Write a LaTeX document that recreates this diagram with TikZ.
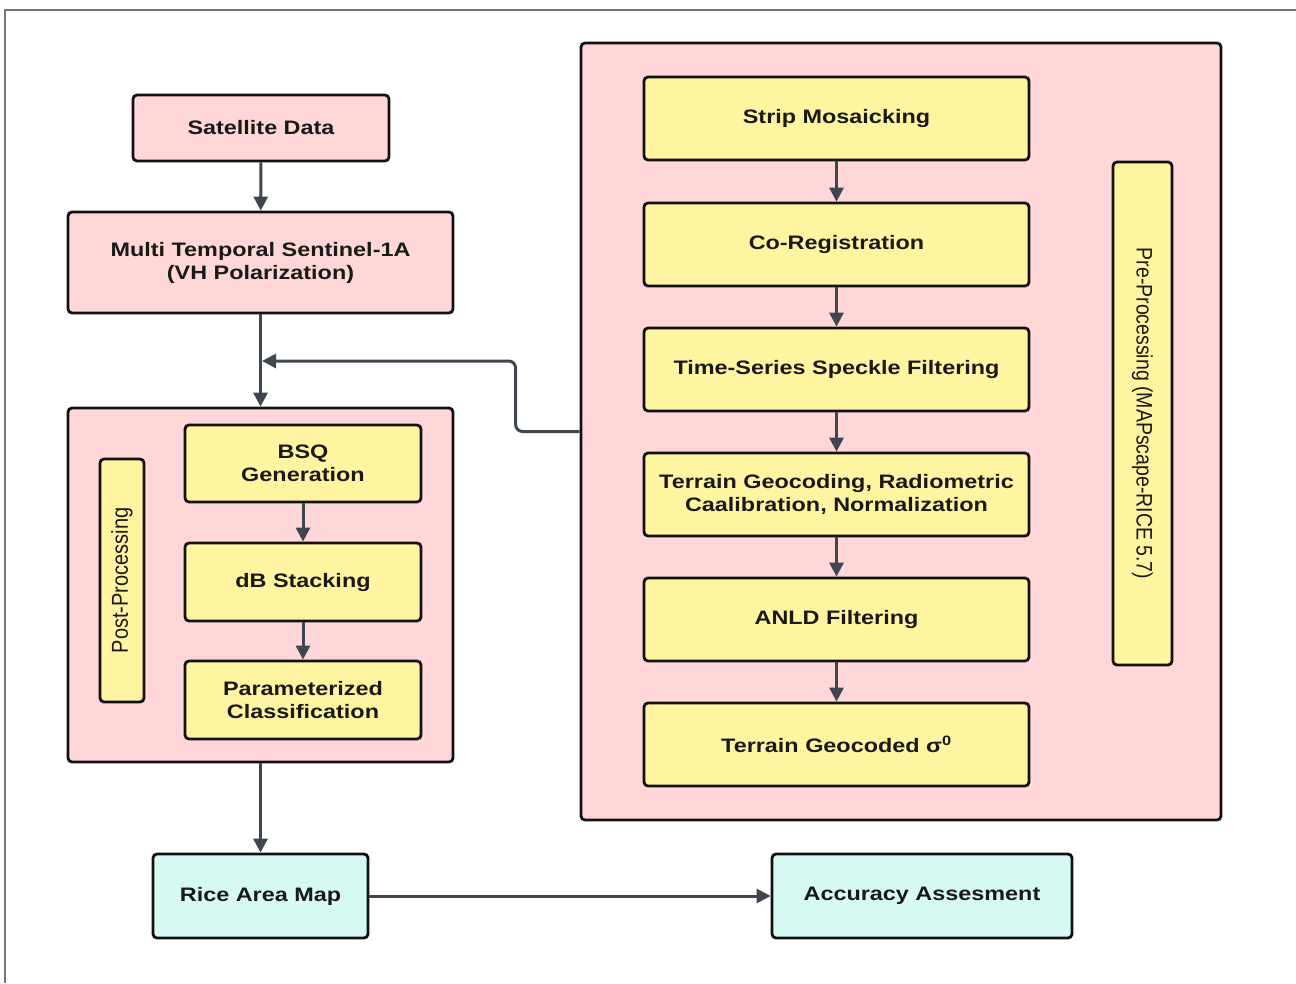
\documentclass[tikz,border=0pt]{standalone}
\usepackage{fontspec}
\usepackage{graphicx}
\setmainfont{Liberation Sans}[FakeStretch=1.2]
\newfontfamily\rotfont{Liberation Sans}
\usetikzlibrary{arrows.meta}
\definecolor{pinkfill}{HTML}{FFD7D8}
\definecolor{yellowfill}{HTML}{FFF5A1}
\definecolor{cyanfill}{HTML}{D7F9F3}
\definecolor{arrowcol}{HTML}{3F4650}
\definecolor{edgecol}{HTML}{111111}
\definecolor{framecol}{HTML}{777777}
\tikzset{
  basebox/.style={rectangle, rounded corners=4pt, draw=edgecol, line width=2.8pt,
    align=center, inner sep=0pt, text=black!90,
    font=\fontsize{19.5}{23}\selectfont\bfseries},
  pinkbox/.style={basebox, fill=pinkfill},
  yellowbox/.style={basebox, fill=yellowfill},
  cyanbox/.style={basebox, fill=cyanfill},
  rotlabel/.style={basebox, fill=yellowfill, font=\rotfont\fontsize{20}{24}\selectfont},
  arr/.style={draw=arrowcol, line width=3pt, -{Triangle[length=14pt,width=14pt]}},
}
\newcommand{\boxat}[6]{% style, name, x1, y1, x2, y2 -- text given after
  \node[#1, minimum width={#5-#3}, minimum height={#6-#4}] (#2) at ({(#3+#5)/2},{(#4+#6)/2})}
\begin{document}
\begin{tikzpicture}[x=1pt, y=-1pt]
\useasboundingbox (0,0) rectangle (1296,983);
\fill[white] (0,0) rectangle (1296,983);
\draw[framecol, line width=1.6pt] (5,983) -- (5,10) -- (1296,10);

% left column
\boxat{pinkbox}{sat}{133}{95}{389}{161} {Satellite Data};
\boxat{pinkbox}{multi}{68}{212}{453}{313} {Multi Temporal Sentinel-1A\\(VH Polarization)};
\boxat{pinkbox}{post}{68}{408}{453}{762} {};
\boxat{yellowbox}{bsq}{185}{425}{421}{502} {BSQ\\Generation};
\boxat{yellowbox}{db}{185}{543}{421}{621} {dB Stacking};
\boxat{yellowbox}{param}{185}{661}{421}{739} {Parameterized\\Classification};
\boxat{rotlabel}{postlab}{100}{459}{144}{702} {};
\node[font=\rotfont\fontsize{20}{24}\selectfont, rotate=90, text=black!90] (posttext) at (postlab.center) {\scalebox{1}[1.15]{Post-Processing}};

% bottom
\boxat{cyanbox}{rice}{153}{854}{368}{938} {Rice Area Map};
\boxat{cyanbox}{acc}{772}{854}{1072}{938} {Accuracy Assesment};

% right container
\boxat{pinkbox}{pre}{581}{43}{1221}{820} {};
\boxat{yellowbox}{strip}{644}{77}{1029}{160} {Strip Mosaicking};
\boxat{yellowbox}{coreg}{644}{203}{1029}{286} {Co-Registration};
\boxat{yellowbox}{speckle}{644}{328}{1029}{411} {Time-Series Speckle Filtering};
\boxat{yellowbox}{geo}{644}{453}{1029}{536} {Terrain Geocoding, Radiometric\\Caalibration, Normalization};
\boxat{yellowbox}{anld}{644}{578}{1029}{661} {ANLD Filtering};
\boxat{yellowbox}{sigma}{644}{703}{1029}{786} {Terrain Geocoded σ\textsuperscript{0}};
\boxat{rotlabel}{prelab}{1113}{162}{1172}{665} {};
\node[font=\rotfont\fontsize{19.5}{24}\selectfont, rotate=-90, text=black!90] (pretext) at (prelab.center) {\scalebox{1}[1.15]{Pre-Processing (MAPscape-RICE 5.7)}};

% arrows
\draw[arr] (sat) -- (multi);
\draw[arr] (multi) -- (post);
\draw[arr] (post) -- (rice);
\draw[arr] (rice) -- (acc);
\draw[arr] (bsq) -- (db);
\draw[arr] (db) -- (param);
\draw[arr] (strip) -- (coreg);
\draw[arr] (coreg) -- (speckle);
\draw[arr] (speckle) -- (geo);
\draw[arr] (geo) -- (anld);
\draw[arr] (anld) -- (sigma);
\coordinate (join) at (262,361);
\draw[arr, rounded corners=7pt] (pre.west) -- ++(-64,0) |- (join);
\end{tikzpicture}
\end{document}
